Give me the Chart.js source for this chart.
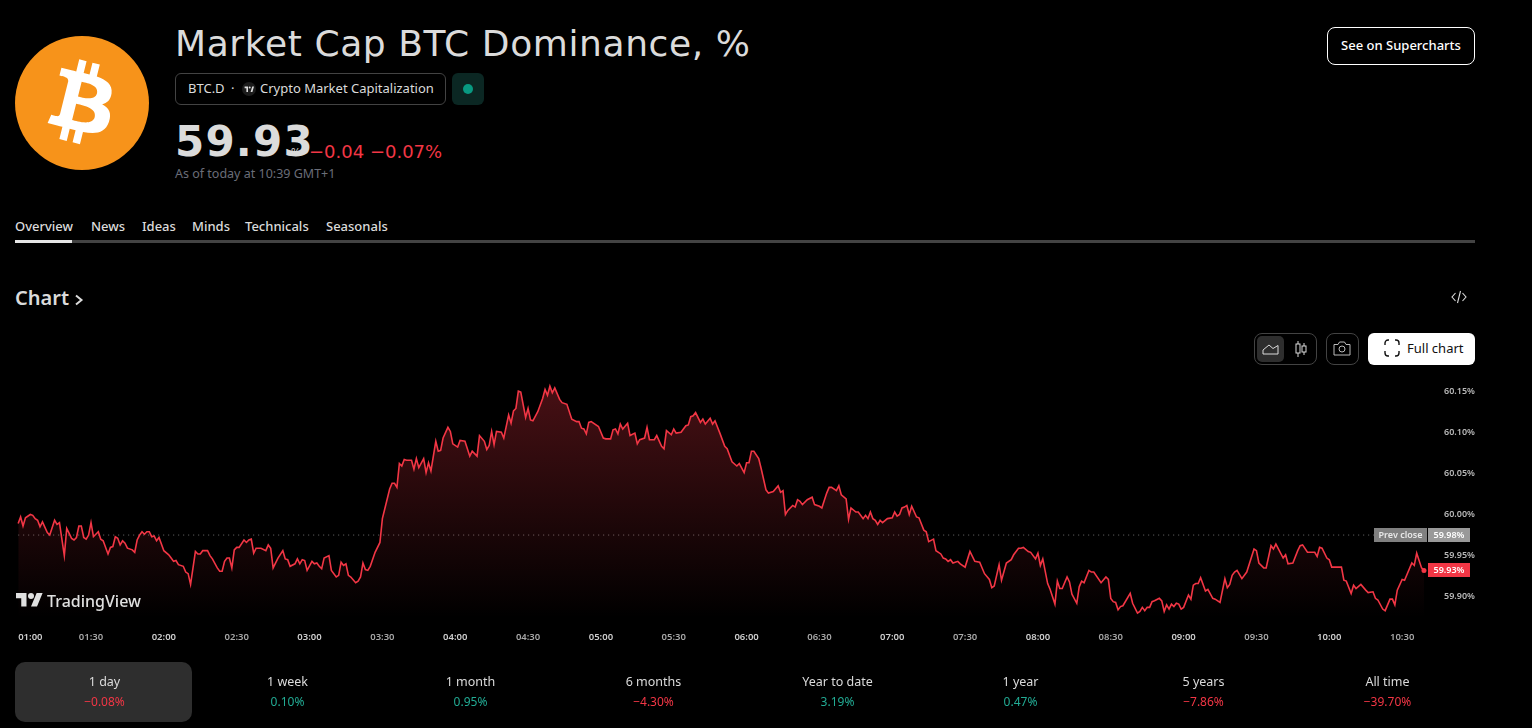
<!DOCTYPE html>
<html><head><meta charset="utf-8">
<script src="https://cdn.jsdelivr.net/npm/chart.js@4"></script>
<style>
html,body{margin:0;padding:0;background:#000;width:1532px;height:728px;overflow:hidden}
body{font-family:"Noto Sans",sans-serif;color:#dbdbdb}
.t{position:absolute;white-space:nowrap;line-height:1}
.box{position:absolute;box-sizing:border-box}
#wrap{position:absolute;left:0;top:370px;width:1532px;height:270px}
.rn{position:absolute;top:675px;width:177px;text-align:center;font-size:12.5px;line-height:14px;color:#dbdbdb}
.rv{position:absolute;top:695px;width:177px;text-align:center;font-size:12px;line-height:14px}
.red{color:#f23645}.grn{color:#22ab94}
</style></head><body>

<svg class="box" style="left:15px;top:36px" width="134" height="134" viewBox="0 0 4091.27 4091.73">
<circle cx="2045.6" cy="2045.9" r="2045.6" fill="#f7931a"/>
<path fill="#fff" d="M2947.77 1754.38c40.72,-272.26 -166.56,-418.61 -450,-516.24l91.95 -368.8 -224.5 -55.94 -89.51 359.09c-59.02,-14.72 -119.63,-28.59 -179.87,-42.34l90.16 -361.46 -224.36 -55.94 -92 368.68c-48.84,-11.12 -96.81,-22.11 -143.35,-33.69l0.26 -1.16 -309.59 -77.31 -59.72 239.78c0,0 166.56,38.18 163.05,40.53 90.91,22.69 107.35,82.87 104.62,130.57l-104.74 420.15c6.26,1.59 14.38,3.89 23.34,7.49 -7.49,-1.86 -15.46,-3.89 -23.73,-5.87l-146.81 588.57c-11.11,27.62 -39.31,69.07 -102.87,53.33 2.25,3.26 -163.17,-40.72 -163.17,-40.72l-111.46 256.98 292.15 72.83c54.35,13.63 107.61,27.89 160.06,41.3l-92.9 373.03 224.24 55.94 92 -369.07c61.26,16.63 120.71,31.97 178.91,46.43l-91.69 367.33 224.51 55.94 92.89 -372.33c382.82,72.45 670.67,43.24 791.83,-303.02 97.63,-279.02 -4.86,-439.96 -206.45,-544.92 146.82,-33.86 257.41,-130.42 286.91,-329.87l-0.07 -0.05zm-512.93 719.26c-69.38,279.02 -538.76,128.19 -690.94,90.4l123.28 -494.62c152.17,37.99 640.17,113.17 567.66,404.22zm69.43 -723.3c-63.29,253.8 -453.96,124.86 -580.69,93.27l111.77 -448.59c126.73,31.59 534.85,90.55 468.92,355.32z"/>
</svg>

<div class="t" style="left:175px;top:24px;font:500 36px 'DejaVu Sans';letter-spacing:.6px;line-height:40px">Market Cap BTC Dominance, %</div>

<div class="box" style="left:175px;top:73px;width:271px;height:32px;border:1px solid #434343;border-radius:6px"></div>
<div class="t" style="left:188px;top:82px;font-size:13px">BTC.D</div>
<div class="t" style="left:231px;top:82px;font-size:13px">·</div>
<svg class="box" style="left:242px;top:82px" width="14" height="14" viewBox="0 0 14 14"><circle cx="7" cy="7" r="7" fill="#1c1c1c"/><path fill="#ddd" d="M6 10H4.4V6.2H2.6V4.6H6zM10.4 10H8.6l1.6-5.4h1.8z"/><circle cx="7.7" cy="5.6" r="1" fill="#ddd"/></svg>
<div class="t" style="left:260px;top:82px;font-size:13px">Crypto Market Capitalization</div>
<div class="box" style="left:452px;top:73px;width:32px;height:32px;background:#0b2723;border-radius:6px"></div>
<div class="box" style="left:463px;top:84px;width:10px;height:10px;background:#089981;border-radius:50%"></div>

<div class="t" style="left:175px;top:118px;font:700 42px/48px 'DejaVu Sans';letter-spacing:1.2px">59.93</div>
<div class="t" style="left:291px;top:147px;font:500 10px 'DejaVu Sans'">%</div>
<div class="t red" style="left:309px;top:141px;font:500 18px 'DejaVu Sans'">−0.04 −0.07%</div>
<div class="t" style="left:175px;top:168px;font-size:12.5px;color:#6a6d78">As of today at 10:39 GMT+1</div>

<div class="t" style="left:15px;top:220px;font-size:13px;font-weight:500">Overview</div>
<div class="t" style="left:91px;top:220px;font-size:13px;font-weight:500">News</div>
<div class="t" style="left:142px;top:220px;font-size:13px;font-weight:500">Ideas</div>
<div class="t" style="left:192px;top:220px;font-size:13px;font-weight:500">Minds</div>
<div class="t" style="left:245px;top:220px;font-size:13px;font-weight:500">Technicals</div>
<div class="t" style="left:326px;top:220px;font-size:13px;font-weight:500">Seasonals</div>
<div class="box" style="left:15px;top:240px;width:1460px;height:3px;background:#434343"></div>
<div class="box" style="left:15px;top:240px;width:57px;height:3px;background:#e6e6e6"></div>

<div class="t" style="left:15px;top:286px;font-size:20px;font-weight:600;line-height:24px">Chart</div>
<svg class="box" style="left:74px;top:294px" width="10" height="12" viewBox="0 0 10 12"><path d="M2 1.5 7.5 6 2 10.5" fill="none" stroke="#dbdbdb" stroke-width="2"/></svg>
<svg class="box" style="left:1451px;top:290px" width="16" height="14" viewBox="0 0 16 14"><path d="M4.5 3 1 7l3.5 4M11.5 3 15 7l-3.5 4M9.5 1 6.5 13" fill="none" stroke="#dbdbdb" stroke-width="1.1"/></svg>

<div class="box" style="left:1327px;top:27px;width:148px;height:38px;border:1px solid #fff;border-radius:8px"></div>
<div class="t" style="left:1327px;top:39px;width:148px;text-align:center;color:#fff;font-size:13px;font-weight:500">See on Supercharts</div>

<div class="box" style="left:1254px;top:333px;width:63px;height:32px;border:1px solid #434343;border-radius:8px"></div>
<div class="box" style="left:1257px;top:336px;width:27px;height:26px;background:#2e2e2e;border-radius:5px"></div>
<svg class="box" style="left:1262px;top:342px" width="17" height="13" viewBox="0 0 17 13"><path d="M1 12h15V3.5L11 6.5 7 3 1 8z" fill="none" stroke="#dbdbdb"/></svg>
<svg class="box" style="left:1294px;top:341px" width="14" height="16" viewBox="0 0 14 16"><path d="M4 0v16M10 2v12" stroke="#dbdbdb"/><rect x="2" y="3" width="4" height="9" fill="#000" stroke="#dbdbdb"/><rect x="8" y="5" width="4" height="6" fill="#000" stroke="#dbdbdb"/></svg>
<div class="box" style="left:1326px;top:333px;width:33px;height:32px;border:1px solid #434343;border-radius:8px"></div>
<svg class="box" style="left:1333px;top:341px" width="18" height="15" viewBox="0 0 18 15"><path d="M1 3.5h4l1.5-2.5h5L13 3.5h4v10.500H1z" fill="none" stroke="#bbb"/><circle cx="9" cy="8" r="3" fill="none" stroke="#bbb"/></svg>
<div class="box" style="left:1368px;top:333px;width:107px;height:32px;background:#fff;border-radius:6px"></div>
<svg class="box" style="left:1384px;top:339px" width="16" height="18" viewBox="0 0 16 18"><path d="M1 6V4a3 3 0 0 1 3-3h1M11 1h1a3 3 0 0 1 3 3v2M15 12v2a3 3 0 0 1-3 3h-1M5 17H4a3 3 0 0 1-3-3v-2" fill="none" stroke="#111" stroke-width="1.4"/></svg>
<div class="t" style="left:1407px;top:342px;color:#0f0f0f;font-size:13px">Full chart</div>

<div id="wrap"><canvas id="c" width="1532" height="270"></canvas></div>

<svg class="box" style="left:16px;top:590px" width="27" height="21" viewBox="0 0 36 28"><path fill="#e0e0e0" d="M14 22H7V11H0V4h14v18zM28 22h-8l7.500-18h8L28 22z"/><circle cx="20" cy="8" r="4" fill="#e0e0e0"/></svg>
<div class="t" style="left:47px;top:592px;font-size:16px;font-weight:500;color:#e0e0e0;line-height:19px">TradingView</div>

<div class="box" style="left:15px;top:662px;width:177px;height:60px;background:#2e2e2e;border-radius:10px"></div>
<div id="ranges"></div>

<script>
// minutes since 01:00
const minutes = [
0,1,2,3,5,6,7,8,9,10,12,13,15,16,17,19,20,22,23,24,
25,26,27,28,29,30,31,33,34,35,37,38,39,40,41,42,43,44,45,47,
48,49,50,51,52,53,54,55,56,57,58,60,62,63,64,65,66,68,69,70,
71,73,74,75,76,78,79,80,82,83,84,85,86,87,88,89,90,91,93,94,
95,96,97,98,100,102,103,104,105,107,109,110,111,112,114,115,116,117,118,119,
121,122,123,124,125,126,128,129,131,132,133,134,135,136,137,139,140,141,142,143,
144,145,147,149,150,151,153,154,155,156,157,158,159,160,162,163,164,165,167,168,
169,170,172,173,174,175,177,178,179,181,182,184,186,187,189,190,192,193,194,195,
196,197,199,200,202,203,204,205,206,207,209,210,211,212,214,216,217,218,219,220,
221,223,224,226,228,230,231,232,233,234,235,236,239,241,242,244,245,246,247,248,
249,251,252,254,255,256,258,259,260,262,263,265,266,267,269,270,271,273,275,276,
277,278,279,281,282,283,285,286,287,289,291,292,294,296,297,299,300,301,302,303,
305,306,308,309,311,313,314,315,316,317,319,320,321,322,323,325,327,328,330,331,
333,334,335,337,338,339,341,342,343,345,346,348,349,350,351,352,353,354,355,356,
358,360,361,362,363,364,365,366,367,368,370,371,373,374,375,377,378,380,381,382,
383,384,385,387,388,390,392,394,396,398,400,401,402,404,405,407,409,410,412,413,
414,416,417,419,420,421,422,424,425,427,428,429,430,432,433,434,436,437,438,439,
441,442,443,446,448,449,450,451,452,453,454,455,458,459,461,462,463,464,465,466,
467,468,470,471,472,473,474,475,476,477,478,479,480,482,483,484,485,486,487,489,
490,492,493,495,497,498,499,500,501,502,504,506,509,510,511,513,514,516,517,518,
521,522,523,525,527,528,529,531,534,535,536,537,539,540,541,545,546,547,549,550,
551,553,555,556,558,559,560,562,563,565,566,567,568,570,571,574,575,576,578,579
];
// BTC.D, %
const values = [
59.989,59.997,59.986,59.996,60.000,59.999,59.995,59.993,59.985,59.991,59.978,59.975,59.993,59.988,59.990,59.950,59.983,59.971,59.969,59.972,
59.986,59.986,59.972,59.970,59.975,59.990,59.973,59.979,59.970,59.968,59.952,59.960,59.961,59.973,59.971,59.963,59.968,59.965,59.959,59.957,
59.954,59.969,59.975,59.979,59.976,59.979,59.979,59.973,59.974,59.968,59.972,59.956,59.951,59.947,59.943,59.944,59.939,59.937,59.930,59.928,
59.915,59.955,59.952,59.952,59.956,59.956,59.950,59.946,59.935,59.931,59.931,59.943,59.947,59.947,59.935,59.957,59.960,59.960,59.969,59.966,
59.969,59.970,59.953,59.959,59.959,59.956,59.963,59.959,59.935,59.947,59.956,59.946,59.945,59.937,59.940,59.946,59.940,59.945,59.944,59.932,
59.943,59.940,59.941,59.937,59.934,59.947,59.950,59.932,59.924,59.926,59.942,59.938,59.940,59.926,59.924,59.917,59.919,59.924,59.941,59.933,
59.932,59.937,59.954,59.966,59.995,60.007,60.031,60.038,60.038,60.033,60.062,60.059,60.067,60.066,60.066,60.055,60.068,60.057,60.068,60.051,
60.063,60.053,60.089,60.077,60.078,60.093,60.106,60.101,60.086,60.082,60.090,60.089,60.071,60.077,60.071,60.096,60.089,60.079,60.084,60.101,
60.085,60.101,60.100,60.093,60.121,60.111,60.126,60.129,60.150,60.149,60.118,60.129,60.115,60.114,60.125,60.141,60.152,60.145,60.156,60.148,
60.154,60.140,60.136,60.134,60.116,60.113,60.113,60.105,60.104,60.098,60.112,60.113,60.107,60.093,60.092,60.092,60.103,60.104,60.098,60.110,
60.104,60.111,60.096,60.099,60.086,60.091,60.093,60.106,60.091,60.091,60.096,60.083,60.080,60.102,60.097,60.104,60.099,60.100,60.108,60.109,
60.119,60.120,60.124,60.112,60.116,60.110,60.117,60.110,60.114,60.099,60.083,60.080,60.064,60.059,60.062,60.051,60.063,60.063,60.077,60.077,
60.068,60.056,60.030,60.026,60.028,60.035,60.027,60.029,60.000,60.005,60.011,60.009,60.018,60.016,60.012,60.018,60.021,60.012,60.010,60.008,
60.026,60.033,60.033,60.029,60.035,60.024,60.019,59.994,60.008,60.003,60.003,59.995,59.999,59.995,60.003,59.995,59.993,59.988,59.993,59.990,
59.995,59.996,60.003,59.998,60.000,60.008,60.009,60.011,60.000,60.010,59.997,59.996,59.981,59.979,59.967,59.970,59.956,59.952,59.947,59.946,
59.943,59.945,59.941,59.943,59.940,59.936,59.955,59.943,59.942,59.928,59.921,59.911,59.913,59.939,59.920,59.941,59.945,59.951,59.959,59.959,
59.960,59.955,59.954,59.946,59.953,59.938,59.946,59.916,59.909,59.891,59.919,59.910,59.910,59.924,59.918,59.903,59.892,59.912,59.919,59.917,
59.932,59.930,59.930,59.917,59.924,59.921,59.898,59.894,59.893,59.884,59.888,59.889,59.904,59.892,59.880,59.882,59.887,59.883,59.887,59.887,
59.894,59.895,59.898,59.895,59.882,59.890,59.885,59.891,59.888,59.892,59.891,59.885,59.887,59.902,59.897,59.914,59.916,59.916,59.923,59.907,
59.909,59.898,59.897,59.893,59.922,59.911,59.915,59.926,59.930,59.932,59.922,59.930,59.958,59.956,59.941,59.935,59.935,59.962,59.958,59.964,
59.947,59.951,59.940,59.941,59.956,59.962,59.963,59.954,59.954,59.949,59.960,59.959,59.947,59.945,59.936,59.936,59.920,59.919,59.904,59.914,
59.910,59.915,59.908,59.905,59.906,59.898,59.896,59.885,59.883,59.897,59.897,59.890,59.908,59.921,59.920,59.941,59.938,59.953,59.935,59.932
];
const timeLabels = ["01:00","01:30","02:00","02:30","03:00","03:30","04:00","04:30","05:00","05:30","06:00","06:30","07:00","07:30","08:00","08:30","09:00","09:30","10:00","10:30"];
const priceTicks = [59.90,59.95,60.00,60.05,60.10,60.15];
const prevClose = 59.975, prevCloseLabel = "59.98%";
const lastPrice = 59.9325, lastPriceLabel = "59.93%";
const rangeNames = ["1 day","1 week","1 month","6 months","Year to date","1 year","5 years","All time"];
const rangeValues = ["−0.08%","0.10%","0.95%","−4.30%","3.19%","0.47%","−7.86%","−39.70%"];

rangeNames.forEach((n,i)=>{
  const cx=[104,287,470,653,837,1020,1203,1387][i], neg=rangeValues[i][0]==="−";
  document.getElementById('ranges').insertAdjacentHTML('beforeend',
   `<div class="rn" style="left:${cx-88}px">${n}</div><div class="rv ${neg?'red':'grn'}" style="left:${cx-88}px">${rangeValues[i]}</div>`);
});

const RED="#f23645", FONT="'Noto Sans',sans-serif";
const overlay={id:'overlay',
 beforeDraw(ch){
  const items=ch.scales.x.getLabelItems();
  if(items[0]) items[0].options.textAlign='left';
 },
 afterDraw(ch){
  const c=ch.ctx,y=ch.scales.y;
  c.save();
  c.font="600 9px "+FONT; c.textBaseline='middle';
  const py=Math.round(y.getPixelForValue(prevClose));
  c.fillStyle="#808080"; c.fillRect(1374,py-7,53,14);
  c.fillStyle="#999999"; c.fillRect(1428,py-7,42,14);
  c.fillStyle="#e8e8e8"; c.textAlign='center';
  c.fillText("Prev close",1400.5,py); c.fillStyle="#fff"; c.fillText(prevCloseLabel,1449,py);
  const ly=Math.round(y.getPixelForValue(lastPrice));
  c.fillStyle=RED; c.fillRect(1428,ly-7,42,14);
  c.fillStyle="#fff"; c.fillText(lastPriceLabel,1449,ly);
  c.restore();
 }};

new Chart(document.getElementById('c'),{
 type:'line',
 data:{datasets:[
  {data:minutes.map((m,i)=>({x:m,y:values[i]})),borderColor:RED,borderWidth:1.6,tension:0,
   pointRadius:c=>c.dataIndex===minutes.length-1?2.5:0,pointBackgroundColor:RED,pointBorderWidth:0,
   fill:'start',clip:false,
   backgroundColor:c=>{const a=c.chart.chartArea;if(!a)return 'transparent';
     const g=c.chart.ctx.createLinearGradient(0,a.top,0,a.bottom);
     g.addColorStop(0,'rgba(242,54,69,0.30)');g.addColorStop(1,'rgba(242,54,69,0)');return g;}},
  {data:[{x:0,y:prevClose},{x:558.5,y:prevClose}],borderColor:'#6e6e6e',borderWidth:1,borderDash:[1,4],pointRadius:0,fill:false}
 ]},
 plugins:[overlay],
 options:{responsive:false,animation:false,devicePixelRatio:1,
  layout:{padding:{left:15,top:10,right:0,bottom:0}},
  plugins:{legend:{display:false},tooltip:{enabled:false}},
  scales:{
   x:{type:'linear',min:0,max:582.3,grid:{display:false},border:{display:false},
    afterBuildTicks:s=>{s.ticks=timeLabels.map((_,i)=>({value:i*30}));},
    afterFit:s=>{s.height=22;},
    ticks:{autoSkip:false,maxRotation:0,padding:6,callback:v=>timeLabels[v/30],
      font:{size:9.500,weight:'600',family:FONT},
      color:c=>c.index%2?'#a8a8a8':'#cfcfcf'}},
   y:{position:'right',min:59.8741,max:60.1636,grid:{display:false},border:{display:false},
    afterBuildTicks:s=>{s.ticks=priceTicks.map(v=>({value:v}));},
    afterFit:s=>{s.width=100;},
    ticks:{padding:4,callback:v=>v.toFixed(2)+"%",font:{size:9,weight:'600',family:FONT},color:'#b8b8b8'}}
  }}
});
</script>
</body></html>
